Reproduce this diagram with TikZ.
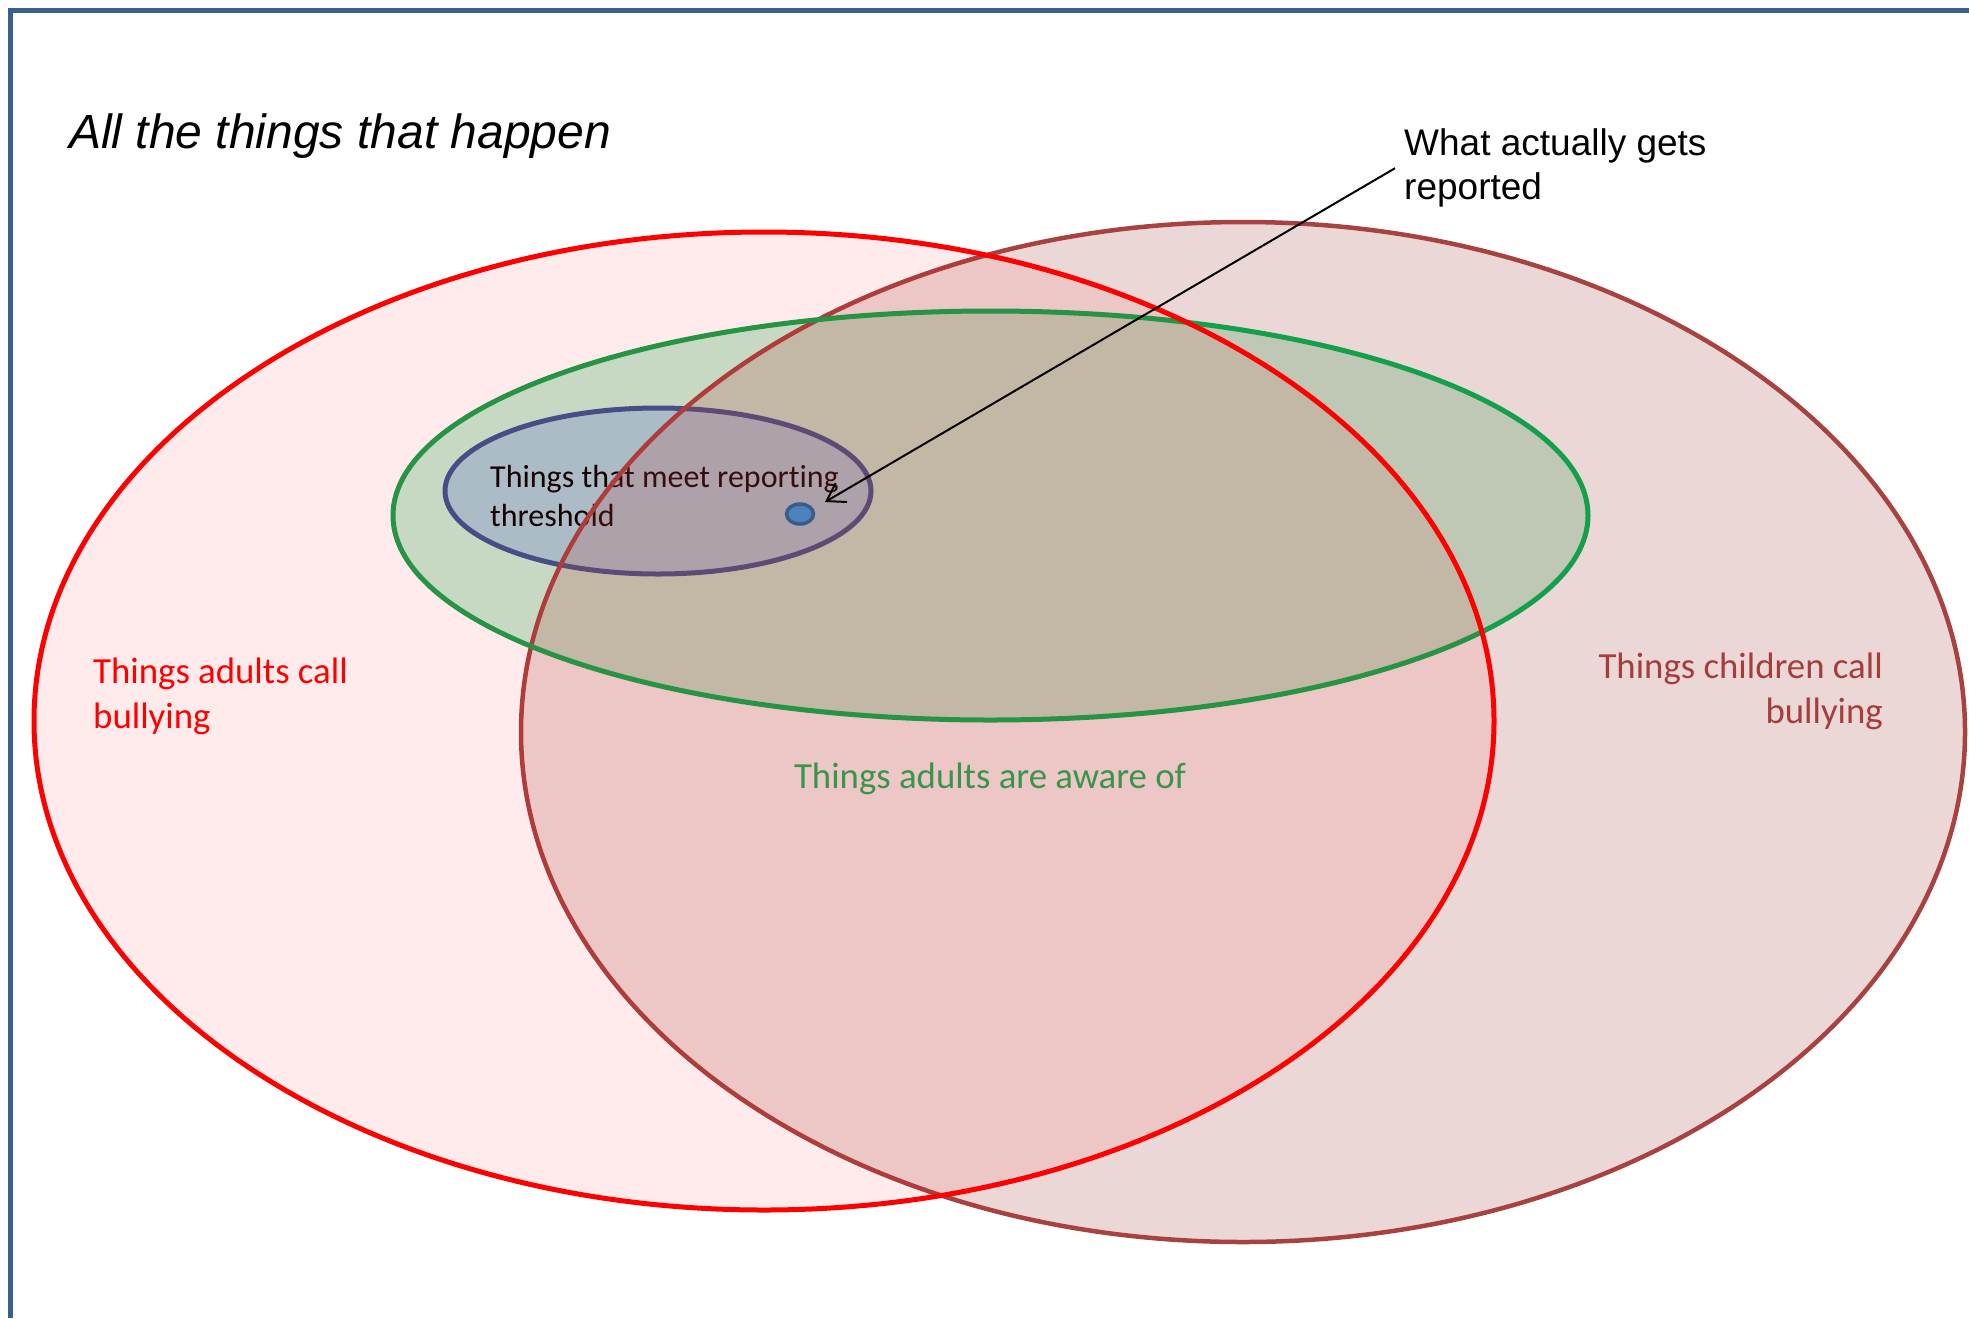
\documentclass[tikz,border=0pt]{standalone}
\usepackage{fontspec}
\setmainfont{Liberation Sans}
\newfontfamily\calf[Ligatures=NoCommon]{Carlito}
\usetikzlibrary{arrows.meta}
\definecolor{bordc}{RGB}{58,95,140}
\definecolor{greenfill}{RGB}{196,236,212}
\definecolor{greenline}{RGB}{20,160,75}
\definecolor{bluefill}{RGB}{166,205,217}
\definecolor{blueline}{RGB}{55,85,145}
\definecolor{brownc}{RGB}{173,73,73}
\definecolor{brownline}{RGB}{168,66,64}
\definecolor{brownlabel}{RGB}{163,62,60}
\definecolor{greenlabel}{RGB}{55,150,75}
\definecolor{dotfill}{RGB}{79,129,189}
\definecolor{dotline}{RGB}{56,93,138}
\begin{document}
\begin{tikzpicture}[x=1pt,y=-1pt,
  lbl/.style={inner sep=0pt, font=\calf\fontsize{36.8}{45}\selectfont},
  setline/.style={line width=5pt},
]
\useasboundingbox (0,0) rectangle (1969,1318);
\fill[white] (0,0) rectangle (1969,1318);
% frame
\draw[bordc, line width=5pt, line join=miter] (1969,10) -- (10.5,10) -- (10.5,1318);

% centres
\coordinate (cred) at (764,721);
\coordinate (cbrown) at (1243,732);
\coordinate (cgreen) at (990.5,515.5);
\coordinate (cblue) at (658,491);
\coordinate (dot) at (800,514);
\coordinate (tip) at (825,502);

% green set (fill)
\fill[greenfill] (cgreen) ellipse [x radius=597.5pt, y radius=204.5pt];
% blue set
\draw[blueline, fill=bluefill, setline] (cblue) ellipse [x radius=213pt, y radius=83pt];
\node[inner sep=0pt, anchor=base west, font=\calf\fontsize{32}{39}\selectfont] (bluelbl) at (490,487)
  {\begin{tabular}[t]{@{}l@{}}Things that meet reporting\\threshold\end{tabular}};
% brown set (children)
\draw[brownline, line width=4.5pt, fill=brownc, fill opacity=0.22] (cbrown) ellipse [x radius=722pt, y radius=510pt];
% green outline
\draw[greenline, setline] (cgreen) ellipse [x radius=597.5pt, y radius=204.5pt];
% red set (adults)
\draw[red, setline, fill=red, fill opacity=0.08] (cred) ellipse [x radius=730pt, y radius=489pt];
% reported dot
\draw[dotline, fill=dotfill, line width=3.5pt] (dot) ellipse [x radius=13.5pt, y radius=10pt];

% labels
\node[inner sep=0pt, anchor=base west, font=\itshape\fontsize{48}{58}\selectfont] (title) at (69,148)
  {All the things that happen};
\node[inner sep=0pt, anchor=base west, font=\fontsize{37}{44}\selectfont] (wlabel) at (1404,155)
  {\begin{tabular}[t]{@{}l@{}}What actually gets\\reported\end{tabular}};
\node[lbl, text=red, anchor=base west] (adultslbl) at (93,683)
  {\begin{tabular}[t]{@{}l@{}}Things adults call\\bullying\end{tabular}};
\node[lbl, text=brownlabel, anchor=base east] (childlbl) at (1883,678)
  {\begin{tabular}[t]{@{}r@{}}Things children call\\bullying\end{tabular}};
\node[lbl, text=greenlabel, anchor=base] (awarelbl) at (990,788)
  {Things adults are aware of};

% arrow
\draw[-{Straight Barb[length=17pt,width=22pt]}, line width=2pt] ([xshift=-9pt]wlabel.west) -- (tip);
\end{tikzpicture}
\end{document}
